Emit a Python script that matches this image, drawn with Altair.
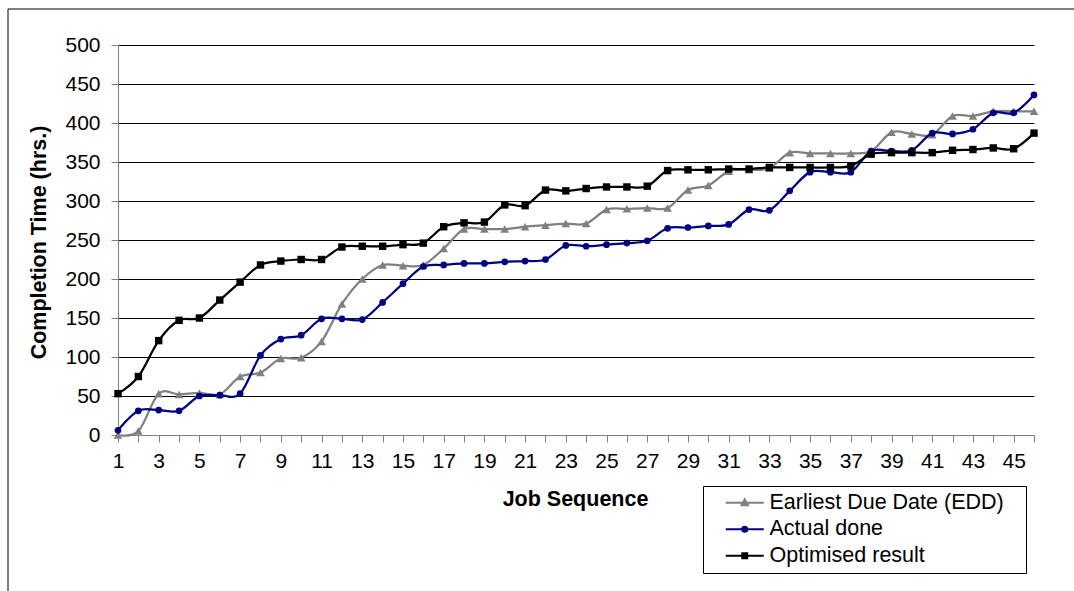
import altair as alt
import pandas as pd

jobs = list(range(1, 47))
edd = [0, 5, 53, 52, 54, 52, 75, 80, 98, 99, 120, 168, 200, 218, 217, 218, 239, 264, 264, 264,
       267, 269, 271, 271, 289, 290, 291, 291, 314, 320, 338, 340, 342, 362, 361, 361, 361, 364,
       388, 386, 385, 409, 409, 415, 415, 415]
actual = [6, 31, 32, 31, 50, 51, 53, 102, 123, 128, 149, 149, 148, 170, 194, 216, 218, 220, 220,
          222, 223, 225, 243, 242, 244, 246, 249, 265, 266, 268, 270, 289, 288, 313, 337, 337, 337,
          364, 364, 365, 387, 386, 392, 413, 413, 436]
optimised = [53, 75, 121, 147, 150, 173, 196, 218, 223, 225, 225, 241, 242, 242, 244, 246, 267,
             272, 273, 295, 294, 314, 313, 316, 318, 318, 319, 339, 340, 340, 341, 341, 343, 343,
             343, 343, 345, 360, 362, 362, 362, 365, 366, 368, 367, 387]

series_names = ["Earliest Due Date (EDD)", "Actual done", "Optimised result"]
series_values = [edd, actual, optimised]
series_colors = ["#808080", "#000080", "#000000"]
marker_shapes = ["triangle-up", "circle", "square"]
marker_sizes = [75, 45, 55]
y_ticks = list(range(0, 501, 50))

# legend glyphs: a short line with the series marker in the middle (unit = 9.5 px)
legend_paths = [
    "M-2,0H2M-0.34,0.27L0,-0.36L0.34,0.27Z",
    "M-2,0H2M0.27,0A0.27,0.27,0,1,1,-0.27,0A0.27,0.27,0,1,1,0.27,0Z",
    "M-2,0H2M-0.26,-0.26H0.26V0.26H-0.26Z",
]

rows = []
for name, vals in zip(series_names, series_values):
    for j, v in zip(jobs, vals):
        rows.append({"series": name, "job": j, "time": v})
df = pd.DataFrame(rows)

FONT = "Liberation Sans"

x_axis = alt.Axis(
    title="Job Sequence", values=jobs,
    labelExpr="datum.value % 2 === 1 ? datum.label : ''",
    labelFlush=False, labelOverlap=False, labelBound=False,
    grid=False, domainColor="#808080", tickColor="#808080", tickSize=7,
    labelFontSize=21, labelPadding=8, labelColor="black", labelFont=FONT,
    titleFontSize=21.5, titleFontWeight="bold", titleColor="black", titleFont=FONT,
    titleBaseline="alphabetic", titleY=70, titleX=457, titleAlign="center",
)
y_axis = alt.Axis(
    title="Completion Time (hrs.)", values=y_ticks,
    grid=True,
    gridColor={"condition": {"test": "datum.value === 0", "value": "#808080"}, "value": "#000000"},
    gridWidth=1, domainColor="#808080", tickColor="#808080", tickSize=7,
    labelFontSize=21, labelPadding=11, labelColor="black", labelFont=FONT,
    titleFontSize=21.5, titleFontWeight="bold", titleColor="black", titleFont=FONT,
    titleAngle=270, titleBaseline="alphabetic", titleAlign="center",
    titleX=-73, titleY=197,
)

X = alt.X("job:Q", scale=alt.Scale(domain=[1, 46], nice=False, zero=False), axis=x_axis)
Y = alt.Y("time:Q", scale=alt.Scale(domain=[0, 500], nice=False, zero=True), axis=y_axis)

base = alt.Chart(df)

frame = alt.Chart(pd.DataFrame({"k": [0]})).mark_rect(
    fillOpacity=0, stroke="black", strokeWidth=1
).encode(
    x=alt.value(-110), x2=alt.value(990), y=alt.value(-36), y2=alt.value(600)
)

layers = [frame]
for name, col, shp, sz in zip(series_names, series_colors, marker_shapes, marker_sizes):
    sub = base.transform_filter(alt.datum.series == name)
    layers.append(sub.mark_line(interpolate="cardinal", color=col, strokeWidth=2.25).encode(x=X, y=Y))
    layers.append(sub.mark_point(shape=shp, filled=True, color=col, size=sz, opacity=1).encode(x=X, y=Y))

leg = alt.Legend(
    orient="none", legendX=585, legendY=441, title=None,
    labelFontSize=21.5, labelFont=FONT, labelColor="black", labelLimit=600,
    labelExpr="datum.label + '\u2800'",
    symbolSize=361, symbolStrokeWidth=2, symbolOffset=25, labelOffset=14,
    padding=6, rowPadding=3.5, strokeColor="black", fillColor="white",
)
legend_layer = base.transform_filter("false").mark_point(filled=True, opacity=1, strokeWidth=2).encode(
    stroke=alt.Stroke("series:N", scale=alt.Scale(domain=series_names, range=series_colors), legend=leg),
    fill=alt.Fill("series:N", scale=alt.Scale(domain=series_names, range=series_colors), legend=leg),
    shape=alt.Shape("series:N", scale=alt.Scale(domain=series_names, range=legend_paths), legend=leg),
)
layers.append(legend_layer)

chart = alt.layer(*layers).properties(
    width=916, height=390,
    autosize=alt.AutoSizeParams(type="none"),
    padding={"left": 118, "top": 45, "right": 40, "bottom": 156},
    background="white",
).configure_view(strokeWidth=0)

chart.save("out.html", embed_options={"renderer": "svg", "actions": False})
